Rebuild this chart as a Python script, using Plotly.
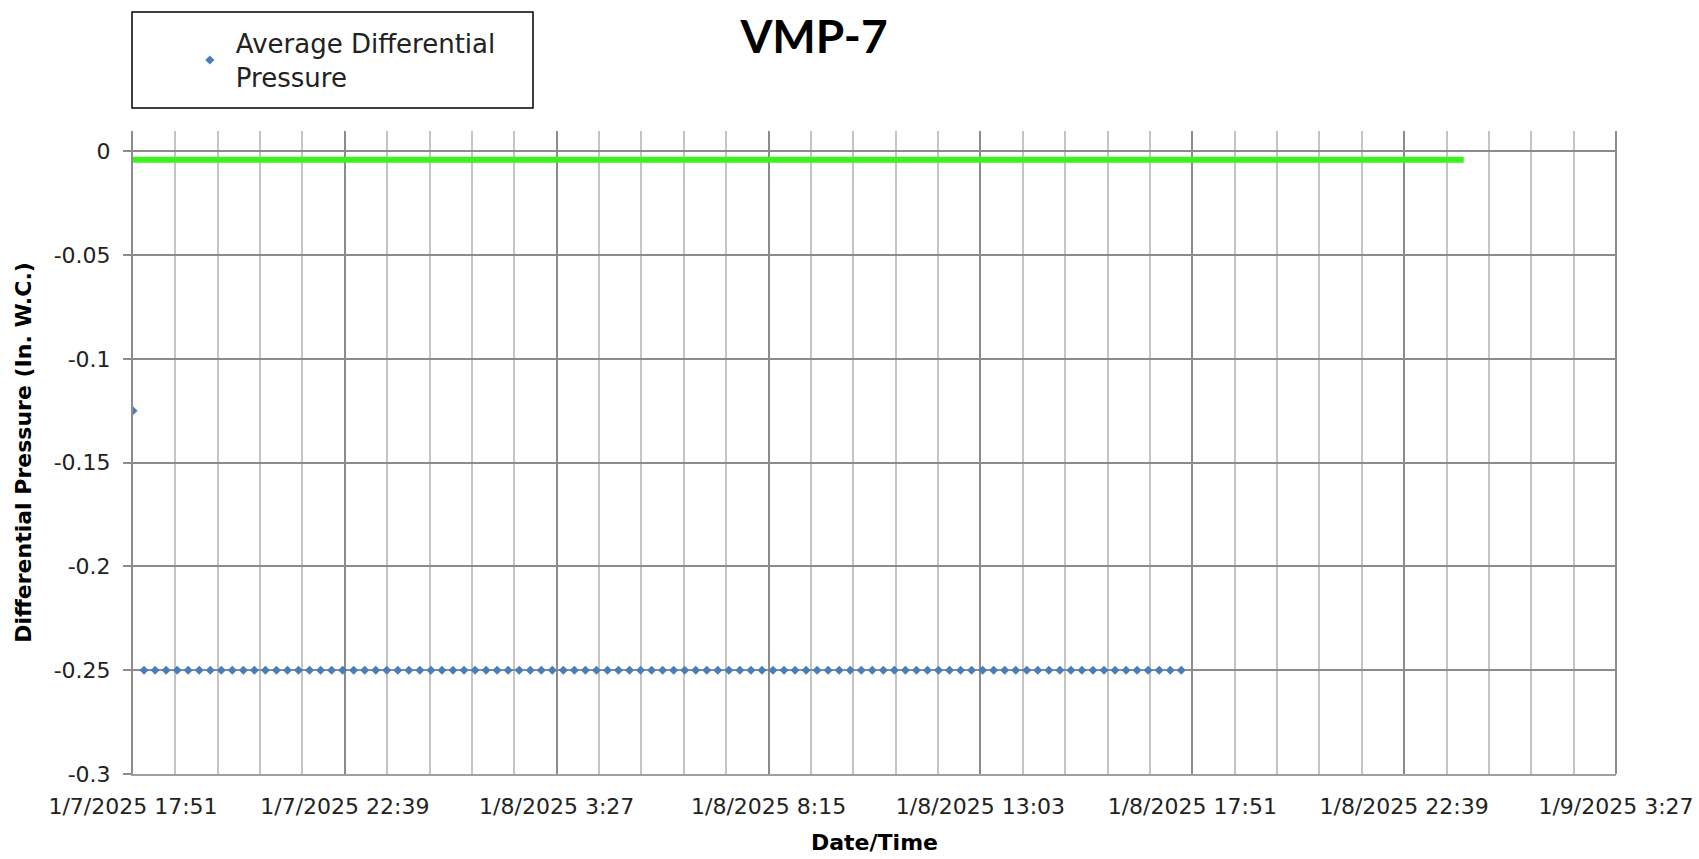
import pandas as pd
import plotly.graph_objects as go

# ---- data ----
start_time = "2025-01-07 17:51"
sample_interval = "15min"
avg_dp_values = [
    -0.125, -0.25, -0.25, -0.25, -0.25, -0.25, -0.25, -0.25, -0.25, -0.25, -0.25, -0.25,
    -0.25, -0.25, -0.25, -0.25, -0.25, -0.25, -0.25, -0.25, -0.25, -0.25, -0.25, -0.25,
    -0.25, -0.25, -0.25, -0.25, -0.25, -0.25, -0.25, -0.25, -0.25, -0.25, -0.25, -0.25,
    -0.25, -0.25, -0.25, -0.25, -0.25, -0.25, -0.25, -0.25, -0.25, -0.25, -0.25, -0.25,
    -0.25, -0.25, -0.25, -0.25, -0.25, -0.25, -0.25, -0.25, -0.25, -0.25, -0.25, -0.25,
    -0.25, -0.25, -0.25, -0.25, -0.25, -0.25, -0.25, -0.25, -0.25, -0.25, -0.25, -0.25,
    -0.25, -0.25, -0.25, -0.25, -0.25, -0.25, -0.25, -0.25, -0.25, -0.25, -0.25, -0.25,
    -0.25, -0.25, -0.25, -0.25, -0.25, -0.25, -0.25, -0.25, -0.25, -0.25, -0.25, -0.25,
]
avg_dp_times = pd.date_range(start_time, periods=len(avg_dp_values), freq=sample_interval)

target_times = ["2025-01-07 17:51", "2025-01-09 00:00"]
target_values = [-0.004, -0.004]

x_tick_labels = ["1/7/2025 17:51", "1/7/2025 22:39", "1/8/2025 3:27", "1/8/2025 8:15",
                 "1/8/2025 13:03", "1/8/2025 17:51", "1/8/2025 22:39", "1/9/2025 3:27"]
y_tick_values = [0, -0.05, -0.1, -0.15, -0.2, -0.25, -0.3]
y_tick_labels = ["0", "-0.05", "-0.1", "-0.15", "-0.2", "-0.25", "-0.3"]

# ---- axis ticks ----
t0 = pd.Timestamp(start_time)
major_step = pd.Timedelta(hours=4, minutes=48)
minor_step = major_step / 5
x_tick_vals = [t0 + i * major_step for i in range(len(x_tick_labels))]
x_minor_vals = [t0 + i * minor_step for i in range(5 * (len(x_tick_labels) - 1) + 1)]

FONT = "DejaVu Sans"

fig = go.Figure()
fig.add_trace(go.Scatter(
    x=target_times, y=target_values, mode="lines",
    line=dict(color="#3bf21f", width=6), showlegend=False, hoverinfo="skip",
))
fig.add_trace(go.Scatter(
    x=avg_dp_times, y=avg_dp_values, mode="markers",
    name="Average Differential<br>Pressure",
    marker=dict(symbol="diamond", size=7, color="#4a7ebb"),
))

fig.update_layout(
    width=1699, height=859,
    margin=dict(l=133, r=83, t=131, b=85, autoexpand=False),
    paper_bgcolor="white", plot_bgcolor="white",
    font=dict(family=FONT, size=22, color="#222222"),
    title=dict(text="<b>VMP-7</b>", x=814 / 1699, xanchor="center",
               y=1 - 37 / 859, yanchor="middle",
               font=dict(family="Lato", size=46, color="black")),
    showlegend=True,
    legend=dict(x=0.0343, y=1.173, xanchor="left", yanchor="top",
                bgcolor="rgba(0,0,0,0)", borderwidth=0, itemwidth=42,
                font=dict(family=FONT, size=26, color="#222222")),
    xaxis=dict(
        type="date", automargin=False,
        range=[x_tick_vals[0], x_tick_vals[-1]],
        tickmode="array", tickvals=x_tick_vals, ticktext=x_tick_labels,
        showgrid=True, gridcolor="#8c8c8c", gridwidth=1.5,
        minor=dict(tickmode="array", tickvals=x_minor_vals, showgrid=True,
                   gridcolor="#c4c4c4", gridwidth=1.5),
        showline=True, linecolor="#a0a0a0", linewidth=2,
        ticks="", zeroline=False, ticklabelstandoff=12,
        title=dict(text="<b>Date/Time</b>", standoff=16,
                   font=dict(family=FONT, size=22, color="black")),
        tickfont=dict(family=FONT, size=22, color="#222222"),
    ),
    yaxis=dict(
        range=[-0.3, 0.0098], automargin=False,
        tickmode="array", tickvals=y_tick_values, ticktext=y_tick_labels,
        showgrid=True, gridcolor="#8c8c8c", gridwidth=1.5,
        showline=True, linecolor="#8c8c8c", linewidth=2,
        ticks="outside", ticklen=8, tickcolor="#8c8c8c", tickwidth=1.5,
        zeroline=False, ticklabelstandoff=8,
        title=dict(text="<b>Differential Pressure (In. W.C.)</b>", standoff=16,
                   font=dict(family=FONT, size=22, color="black")),
        tickfont=dict(family=FONT, size=22, color="#222222"),
    ),
    shapes=[
        dict(type="rect", xref="paper", yref="paper",
             x0=(132 - 133) / 1483, x1=(533 - 133) / 1483,
             y0=(774 - 108) / 643, y1=(774 - 12) / 643,
             line=dict(color="black", width=1.5), fillcolor="rgba(0,0,0,0)"),
        dict(type="line", xref="paper", yref="paper", x0=1, x1=1, y0=0, y1=1,
             line=dict(color="#8c8c8c", width=2)),
    ],
)

fig.write_html("out.html")
